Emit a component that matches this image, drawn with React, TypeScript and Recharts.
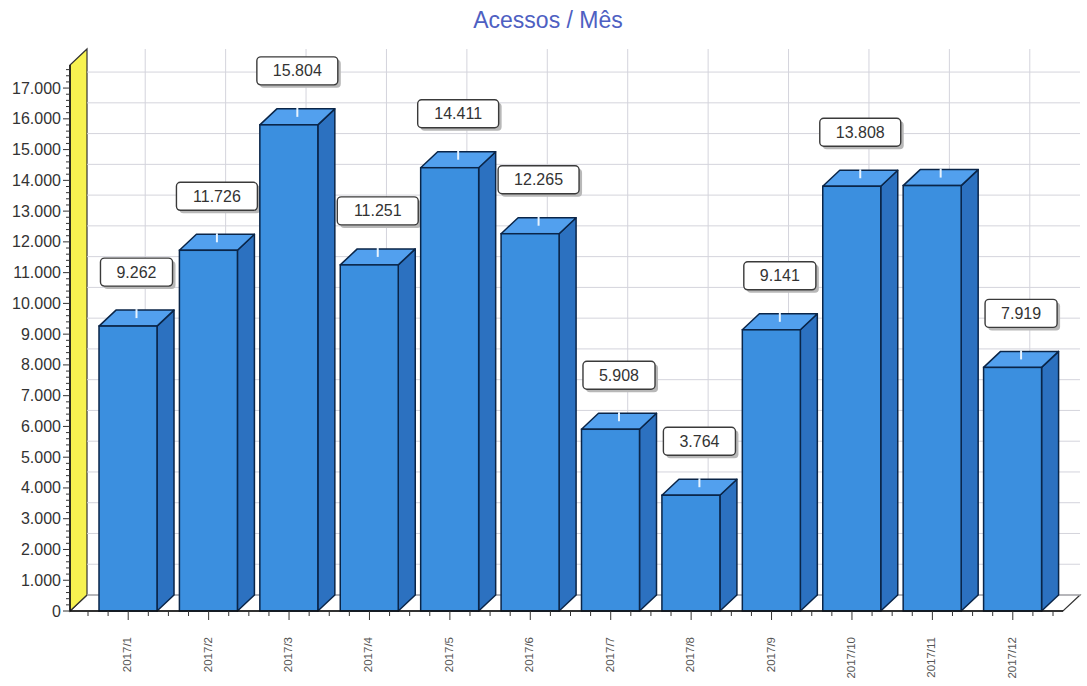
import { BarChart, Bar, XAxis, YAxis, CartesianGrid } from 'recharts';

const meses = ['2017/1', '2017/2', '2017/3', '2017/4', '2017/5', '2017/6', '2017/7', '2017/8', '2017/9', '2017/10', '2017/11', '2017/12'];
const acessos = [9262, 11726, 15804, 11251, 14411, 12265, 5908, 3764, 9141, 13808, 13830, 7919];
// o mês 2017/11 aparece sem caixa de valor no original
const rotulos = ['9.262', '11.726', '15.804', '11.251', '14.411', '12.265', '5.908', '3.764', '9.141', '13.808', '', '7.919'];
const yTicks = [0, 1000, 2000, 3000, 4000, 5000, 6000, 7000, 8000, 9000, 10000, 11000, 12000, 13000, 14000, 15000, 16000, 17000];
const yMinor = [200, 400, 600, 800];

const data = meses.map((mes, i) => ({ mes, acessos: acessos[i], rotulo: rotulos[i] }));
const allYTicks = yTicks.flatMap(v => [v, ...yMinor.map(m => v + m)]).filter(v => v <= 17600);

const W = 1087;
const H = 686;
const LEFT = 70;
const RIGHT = 1063;
const TOP = 65;
const BOTTOM = 611;
const DX = 17;
const DY = 16;
const PAD_L = 18;
const PAD_R = 10;
const BAND = (RIGHT - LEFT - PAD_L - PAD_R) / meses.length;

const FONT = '"Liberation Sans", Arial, sans-serif';
const FRONT = '#3b8fdf';
const TOPC = '#52a0ee';
const SIDE = '#2c71c0';
const EDGE = '#0a2548';

const fmt = (v: number) => String(v).replace(/\B(?=(\d{3})+(?!\d))/g, '.');

function Bar3D(props: any) {
    const { x, y, width, height, payload } = props;
    if (!height || height <= 0) return null;
    const b = y + height;
    const r = x + width;
    const label = payload?.rotulo as string;
    const tw = label ? label.replace('.', '').length * 8.9 + 4.45 : 0;
    const bw = tw + 32;
    const cx = x + width / 2 + DX / 2;
    const cy = y - 54;
    return (
        <g>
            <polygon points={`${r},${y} ${r + DX},${y - DY} ${r + DX},${b - DY} ${r},${b}`} fill={SIDE} stroke={EDGE} strokeWidth={1.5} strokeLinejoin="round" />
            <polygon points={`${x},${y} ${x + DX},${y - DY} ${r + DX},${y - DY} ${r},${y}`} fill={TOPC} stroke={EDGE} strokeWidth={1.5} strokeLinejoin="round" />
            <rect x={x} y={y} width={width} height={height} fill={FRONT} stroke={EDGE} strokeWidth={1.5} />
            <line x1={cx} x2={cx} y1={y - DY - 1} y2={y - 8} stroke="#e8f4ff" strokeWidth={2} />
            {label && (
                <g>
                    <rect x={cx - bw / 2 + 3} y={cy - 14 + 3} width={bw} height={28} rx={4} fill="#b8b8b8" />
                    <rect x={cx - bw / 2} y={cy - 14} width={bw} height={28} rx={4} fill="#fff" stroke="#3a3a3a" strokeWidth={1.4} />
                    <text x={cx} y={cy} textAnchor="middle" dominantBaseline="central" fontSize={16} fontFamily={FONT} fill="#333">
                        {label}
                    </text>
                </g>
            )}
        </g>
    );
}

function YTick(props: any) {
    const { x, y, payload } = props;
    const v = payload.value as number;
    const major = v % 1000 === 0;
    return (
        <g>
            <line x1={x - (major ? 7 : 4)} x2={x} y1={y} y2={y} stroke="#333" />
            {major && (
                <text x={x - 9} y={y} textAnchor="end" dominantBaseline="central" fontSize={16} fontFamily={FONT} fill="#333">
                    {fmt(v)}
                </text>
            )}
        </g>
    );
}

function XTick(props: any) {
    const { x, y, payload, index } = props;
    const minors = [-BAND / 2, -BAND / 4, BAND / 4];
    if (index === meses.length - 1) minors.push(BAND / 2);
    return (
        <g>
            <line x1={x} x2={x} y1={y} y2={y + 9} stroke="#333" />
            {minors.map((d, i) => (
                <line key={i} x1={x + d} x2={x + d} y1={y} y2={y + 5} stroke="#333" />
            ))}
            <text
                x={x - 1}
                y={637}
                dy="0.35em"
                transform={`rotate(-90 ${x - 1} 637)`}
                textAnchor="end"
                fontSize={11.5}
                fontFamily={FONT}
                fill="#555"
            >
                {payload.value}
            </text>
        </g>
    );
}

export default function App() {
    return (
        <div style={{ position: 'absolute', left: 0, top: 0, width: W, height: H, background: '#fff' }}>
            <svg width={W} height={H} style={{ position: 'absolute', left: 0, top: 0 }}>
                <text x={548} y={28} textAnchor="middle" fontSize={23} fontFamily={FONT} fill="#4e60c2">
                    Acessos / Mês
                </text>
                <polygon
                    points={`${LEFT},${BOTTOM} ${LEFT + DX},${BOTTOM - DY} ${RIGHT + DX},${BOTTOM - DY} ${RIGHT},${BOTTOM}`}
                    fill="#fff"
                    stroke="#333"
                    strokeWidth={1.2}
                />
                <polygon
                    points={`${LEFT},${BOTTOM} ${LEFT},${TOP} ${LEFT + DX},${TOP - DY} ${LEFT + DX},${BOTTOM - DY}`}
                    fill="#f7f250"
                    stroke="#333"
                    strokeWidth={1.2}
                />
            </svg>
            <div style={{ position: 'absolute', left: 0, top: 0 }}>
                <BarChart
                    width={W}
                    height={H}
                    data={data}
                    margin={{ top: TOP, right: W - RIGHT, bottom: H - BOTTOM - 70, left: 0 }}
                >
                    <CartesianGrid
                        x={LEFT + DX}
                        y={TOP - DY}
                        width={RIGHT - LEFT}
                        height={BOTTOM - TOP}
                        stroke="#d4d4dc"
                        horizontalCoordinatesGenerator={({ yAxis }: any) =>
                            yTicks.map(v =>
                                typeof yAxis?.scale === 'function'
                                    ? yAxis.scale(v) - DY
                                    : BOTTOM - (v / 17750) * (BOTTOM - TOP) - DY
                            )
                        }
                        verticalCoordinatesGenerator={({ xAxis }: any) =>
                            meses.map((m, i) =>
                                typeof xAxis?.scale === 'function' && typeof xAxis.scale.bandwidth === 'function'
                                    ? xAxis.scale(m) + xAxis.scale.bandwidth() / 2 + DX
                                    : LEFT + PAD_L + BAND * (i + 0.5) + DX
                            )
                        }
                    />
                    <XAxis
                        dataKey="mes"
                        height={70}
                        padding={{ left: PAD_L, right: PAD_R }}
                        axisLine={{ stroke: '#111', strokeWidth: 1.5 }}
                        tickLine={false}
                        tickSize={0}
                        tickMargin={0}
                        interval={0}
                        tick={<XTick />}
                    />
                    <YAxis
                        width={70}
                        domain={[0, 17750]}
                        ticks={allYTicks}
                        interval={0}
                        axisLine={{ stroke: '#111', strokeWidth: 1.5 }}
                        tickLine={false}
                        tickSize={0}
                        tickMargin={0}
                        tick={<YTick />}
                    />
                    <Bar dataKey="acessos" barSize={58} isAnimationActive={false} shape={(p: any) => <Bar3D {...p} />} />
                </BarChart>
            </div>
        </div>
    );
}
